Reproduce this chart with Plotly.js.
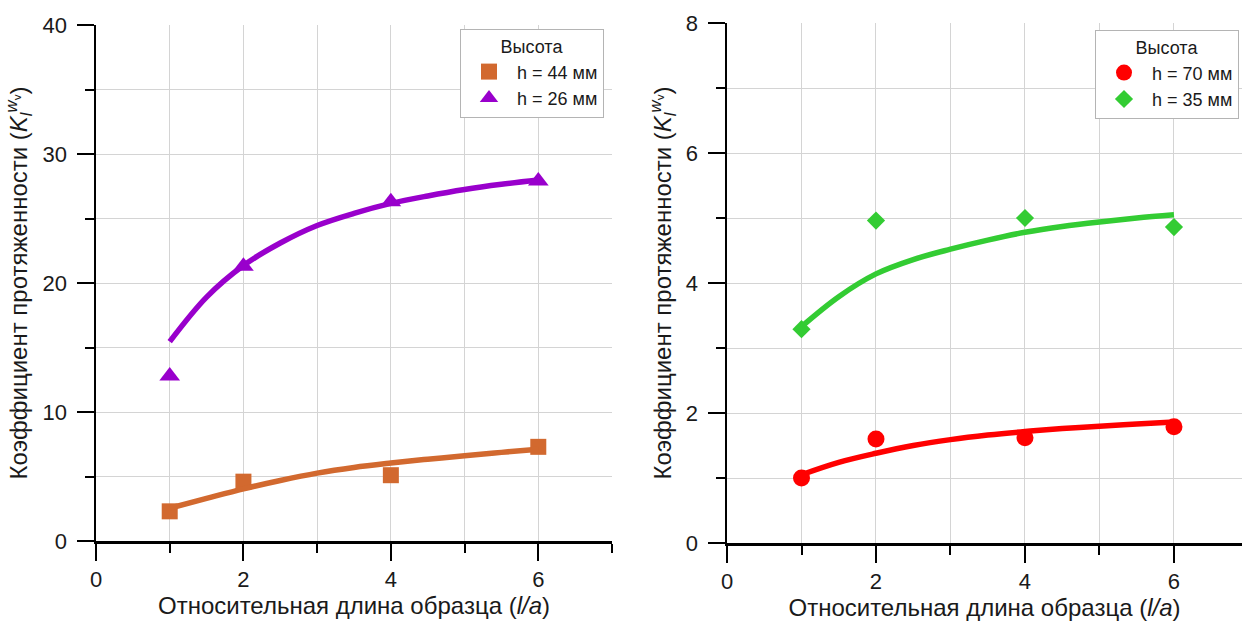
<!DOCTYPE html>
<html>
<head>
<meta charset="utf-8">
<script src="https://cdn.plot.ly/plotly-3.0.1.min.js"></script>
<style>
  html, body { margin: 0; padding: 0; background: #ffffff; }
  #chart { width: 1242px; height: 623px; }
</style>
</head>
<body>
<div id="chart"></div>
<script>
// ---- data ----
const xPoints = [1, 2, 4, 6];
const h44 = [2.3, 4.6, 5.1, 7.3];
const h26 = [12.8, 21.3, 26.3, 27.9];
const h70 = [1.0, 1.6, 1.62, 1.79];
const h35 = [3.29, 4.96, 5.0, 4.86];

const xFit = [1, 1.5, 2, 2.5, 3, 3.5, 4, 4.5, 5, 5.5, 6];
const fit44 = [2.54, 3.3, 4.04, 4.69, 5.26, 5.7, 6.04, 6.34, 6.6, 6.87, 7.12];
const fit26 = [15.45, 18.9, 21.35, 23.1, 24.46, 25.4, 26.17, 26.75, 27.25, 27.65, 27.98];
const fit70 = [1.05, 1.24, 1.38, 1.5, 1.59, 1.66, 1.715, 1.76, 1.795, 1.83, 1.86];
const fit35 = [3.33, 3.79, 4.14, 4.36, 4.52, 4.66, 4.78, 4.87, 4.94, 5.0, 5.05];

const names = ['h = 44 мм', 'h = 26 мм', 'h = 70 мм', 'h = 35 мм'];
const legendTitle = 'Высота';
const xTitle = 'Относительная длина образца (<i>l/a</i>)';
const yTitle = 'Коэффициент протяженности (<i>K</i><sub><i>l</i></sub><sup><i>w</i><sub>v</sub></sup>)';

const cOrange = '#D2692F';
const cPurple = '#9900CC';
const cRed = '#FF0000';
const cGreen = '#33CC33';

const traces = [
  {x: xPoints, y: h44, name: names[0], type: 'scatter', mode: 'markers', xaxis: 'x', yaxis: 'y', legend: 'legend',
   marker: {symbol: 'square', size: 16, color: cOrange}},
  {x: xPoints, y: h26, name: names[1], type: 'scatter', mode: 'markers', xaxis: 'x', yaxis: 'y', legend: 'legend',
   marker: {symbol: 'triangle-up', size: 18, color: cPurple}},
  {x: xFit, y: fit44, type: 'scatter', mode: 'lines', xaxis: 'x', yaxis: 'y', showlegend: false,
   line: {color: cOrange, width: 5.5, shape: 'spline', smoothing: 1}},
  {x: xFit, y: fit26, type: 'scatter', mode: 'lines', xaxis: 'x', yaxis: 'y', showlegend: false,
   line: {color: cPurple, width: 5.5, shape: 'spline', smoothing: 1}},
  {x: xPoints, y: h70, name: names[2], type: 'scatter', mode: 'markers', xaxis: 'x2', yaxis: 'y2', legend: 'legend2',
   marker: {symbol: 'circle', size: 17, color: cRed}},
  {x: xPoints, y: h35, name: names[3], type: 'scatter', mode: 'markers', xaxis: 'x2', yaxis: 'y2', legend: 'legend2',
   marker: {symbol: 'diamond', size: 14, color: cGreen}},
  {x: xFit, y: fit70, type: 'scatter', mode: 'lines', xaxis: 'x2', yaxis: 'y2', showlegend: false,
   line: {color: cRed, width: 5.5, shape: 'spline', smoothing: 1}},
  {x: xFit, y: fit35, type: 'scatter', mode: 'lines', xaxis: 'x2', yaxis: 'y2', showlegend: false,
   line: {color: cGreen, width: 5.5, shape: 'spline', smoothing: 1}}
];

const gridColor = '#d4d4d4';
function xAxis(domain, range, anchor) {
  return {
    domain: domain, range: range, anchor: anchor, tick0: 0, dtick: 2,
    ticks: 'outside', ticklen: 17, tickwidth: 2, tickcolor: '#000',
    showline: true, linecolor: '#000', linewidth: 2.5,
    showgrid: true, gridcolor: gridColor, gridwidth: 1, zeroline: false,
    minor: {dtick: 1, tick0: 0, ticks: 'outside', ticklen: 9, tickwidth: 2, tickcolor: '#000', showgrid: true, gridcolor: gridColor, gridwidth: 1},
    tickfont: {size: 22}, ticklabelstandoff: 0, automargin: false, fixedrange: true,
    title: {text: xTitle, font: {size: 24}, standoff: 0}
  };
}
function yAxis(domain, range, anchor, dtick, minorDtick) {
  return {
    domain: domain, range: range, anchor: anchor, tick0: 0, dtick: dtick,
    ticks: 'outside', ticklen: 17, tickwidth: 2, tickcolor: '#000',
    showline: true, linecolor: '#000', linewidth: 2.5,
    showgrid: true, gridcolor: gridColor, gridwidth: 1, zeroline: false,
    minor: {dtick: minorDtick, tick0: 0, ticks: 'outside', ticklen: 9, tickwidth: 2, tickcolor: '#000', showgrid: true, gridcolor: gridColor, gridwidth: 1},
    tickfont: {size: 22}, ticklabelstandoff: 5, automargin: false, fixedrange: true,
    title: {text: yTitle, font: {size: 24}, standoff: 8}
  };
}

function legendBox(x, y) {
  return {
    x: x, y: y, xanchor: 'left', yanchor: 'top',
    bgcolor: '#ffffff', bordercolor: '#b4b4b4', borderwidth: 1,
    font: {size: 18, color: '#1a1a1a'}, itemwidth: 46,
    title: {text: legendTitle, side: 'top center', font: {size: 18, color: '#1a1a1a'}}
  };
}

const layout = {
  width: 1242, height: 623,
  margin: {l: 0, r: 0, t: 0, b: 0, pad: 0},
  paper_bgcolor: '#ffffff', plot_bgcolor: '#ffffff',
  font: {family: 'Liberation Sans, Arial, sans-serif', color: '#1a1a1a', size: 20},
  xaxis: xAxis([96 / 1242, 612 / 1242], [0, 7], 'y'),
  yaxis: yAxis([82 / 623, 598 / 623], [0, 40], 'x', 10, 5),
  xaxis2: xAxis([727 / 1242, 1], [0, 6.913], 'y2'),
  yaxis2: yAxis([80 / 623, 600 / 623], [0, 8], 'x2', 2, 1),
  legend: legendBox(460 / 1242, 594 / 623),
  legend2: legendBox(1095 / 1242, 593 / 623),
  showlegend: true
};

Plotly.newPlot('chart', traces, layout, {staticPlot: true, displayModeBar: false});
</script>
</body>
</html>
